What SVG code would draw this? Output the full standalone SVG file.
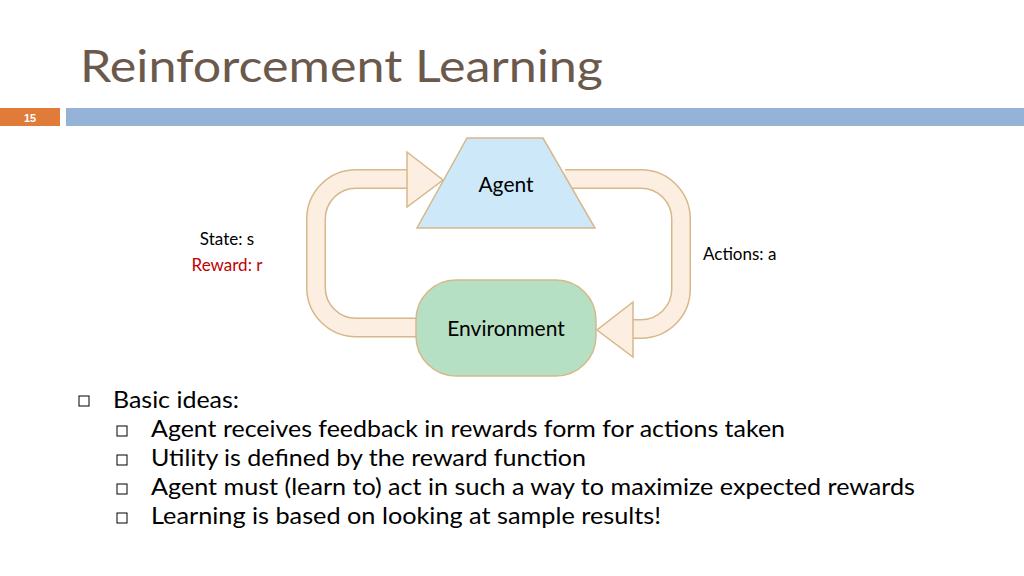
<svg xmlns="http://www.w3.org/2000/svg" width="1024" height="576" viewBox="0 0 1024 576">
<style>
.t{font-family:Lato,"Open Sans",sans-serif;fill:#000}
.bo{fill:none;stroke:#d6b88a;stroke-width:20;stroke-linejoin:round}
.bf{fill:none;stroke:#fcefe2;stroke-width:17}
.ah{fill:#fcefe2;stroke:#d6b88a;stroke-width:1.5;stroke-linejoin:miter}
.sq{fill:none;stroke:#000;stroke-width:1}
</style>
<rect width="1024" height="576" fill="#fff"/>
<text x="80" y="82" font-family="Lato,sans-serif" font-size="44" fill="#6b594c" textLength="523" lengthAdjust="spacingAndGlyphs">Reinforcement Learning</text>
<rect x="0" y="108" width="60" height="18" fill="#e07b39"/>
<text x="30" y="121.5" text-anchor="middle" font-family="Liberation Sans,sans-serif" font-size="11" font-weight="bold" fill="#fff">15</text>
<rect x="66" y="108" width="958" height="18" fill="#95b3d7"/>
<g id="connectors">
<path class="bo" d="M418,327.5 H356 A40,40 0 0 1 316,287.5 V219 A40,40 0 0 1 356,179 H410"/>
<path class="bf" d="M418,327.5 H356 A40,40 0 0 1 316,287.5 V219 A40,40 0 0 1 356,179 H410"/>
<polygon class="ah" points="407,152 443,180 407,207"/>
<path class="bo" d="M565,179 H641 A40,40 0 0 1 681,219 V289 A40,40 0 0 1 641,329 H630"/>
<path class="bf" d="M565,179 H641 A40,40 0 0 1 681,219 V289 A40,40 0 0 1 641,329 H630"/>
<polygon class="ah" points="633,302 597,330 633,357"/>
</g>
<g id="agent">
<polygon points="467,138 543,138 595,228 417,228" fill="#cce8f9" stroke="#d6b88a" stroke-width="1.5"/>
<text class="t" x="506" y="192" text-anchor="middle" font-size="21">Agent</text>
</g>
<g id="environment">
<rect x="416" y="280" width="180" height="96" rx="40" fill="#b6e0c4" stroke="#d6b88a" stroke-width="1.5"/>
<text class="t" x="506" y="336" text-anchor="middle" font-size="21">Environment</text>
</g>
<text class="t" x="227" y="245" text-anchor="middle" font-size="17">State: s</text>
<text class="t" x="227" y="271" text-anchor="middle" font-size="17" style="fill:#c00000">Reward: r</text>
<text class="t" x="703" y="260" font-size="17">Actions: a</text>
<rect class="sq" x="79" y="396" width="10" height="10"/>
<text class="t" x="113" y="408" font-size="23" textLength="126" lengthAdjust="spacingAndGlyphs">Basic ideas:</text>
<rect class="sq" x="117" y="426" width="10" height="10"/>
<text class="t" x="151" y="437" font-size="23" textLength="634" lengthAdjust="spacingAndGlyphs">Agent receives feedback in rewards form for actions taken</text>
<rect class="sq" x="117" y="455" width="10" height="10"/>
<text class="t" x="151" y="466" font-size="23" textLength="435" lengthAdjust="spacingAndGlyphs">Utility is defined by the reward function</text>
<rect class="sq" x="117" y="484" width="10" height="10"/>
<text class="t" x="151" y="495" font-size="23" textLength="764" lengthAdjust="spacingAndGlyphs">Agent must (learn to) act in such a way to maximize expected rewards</text>
<rect class="sq" x="117" y="513" width="10" height="10"/>
<text class="t" x="151" y="524" font-size="23" textLength="510" lengthAdjust="spacingAndGlyphs">Learning is based on looking at sample results!</text>
</svg>
